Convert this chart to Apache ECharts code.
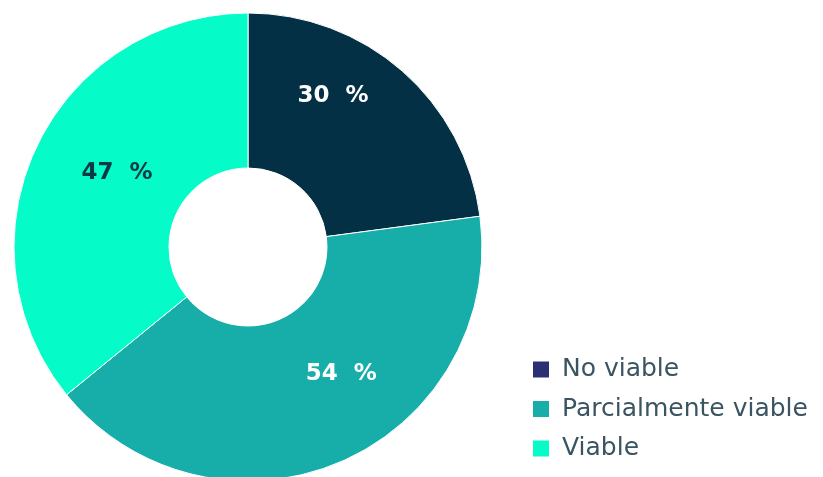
<!DOCTYPE html>
<html>
<head>
<meta charset="utf-8">
<script src="https://cdn.jsdelivr.net/npm/echarts@6/dist/echarts.min.js"></script>
<style>
  html, body { margin: 0; padding: 0; background: #fff; }
  #chart { width: 823px; height: 477px; }
</style>
</head>
<body>
<div id="chart"></div>
<script>
var categories = ['No viable', 'Parcialmente viable', 'Viable'];
var values = [30, 54, 47];
var sliceColors = ['#033044', '#17aeaa', '#05fcc8'];
var legendColors = ['#2b3073', '#17aeaa', '#05fcc8'];
var labelColors = ['#ffffff', '#ffffff', '#0b3a45'];
// nudge labels toward where they sit in the original
var labelNudge = [[-20, -31], [30, -19], [13, -6]];

var chart = echarts.init(document.getElementById('chart'));

var pieData = [];
for (let i = 0; i < categories.length; i++) {
    pieData.push({
        name: categories[i],
        value: values[i],
        itemStyle: { color: sliceColors[i] },
        label: { color: labelColors[i] }
    });
}

var legendData = categories.map(function (c, i) {
    return { name: c, itemStyle: { color: legendColors[i] } };
});

chart.setOption({
    animation: false,
    legend: {
        orient: 'vertical',
        left: 526,
        top: 352,
        icon: 'rect',
        itemWidth: 18,
        itemHeight: 18,
        itemGap: 14.5,
        data: legendData,
        textStyle: {
            fontFamily: 'DejaVu Sans', fontSize: 25, lineHeight: 24,
            color: '#3a5462', padding: [0, 0, 0, 7]
        }
    },
    series: [{
        type: 'pie',
        center: [248, 247],
        radius: [79, 234],
        startAngle: 90,
        clockwise: true,
        data: pieData,
        itemStyle: { borderColor: '#ffffff', borderWidth: 1 },
        label: {
            position: 'inside',
            formatter: '{c}  %',
            fontFamily: 'DejaVu Sans',
            fontWeight: 'bold',
            fontSize: 23
        },
        labelLayout: function (p) {
            return { dx: labelNudge[p.dataIndex][0], dy: labelNudge[p.dataIndex][1] };
        },
        labelLine: { show: false },
        emphasis: { disabled: true }
    }]
});
</script>
</body>
</html>
